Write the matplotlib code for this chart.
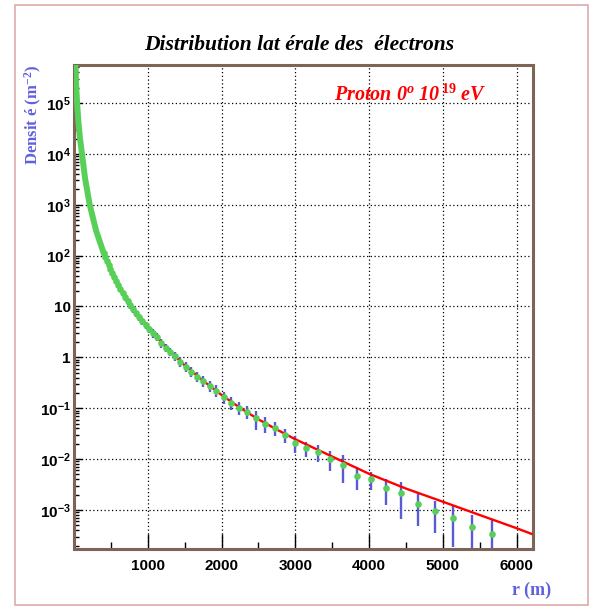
import matplotlib
matplotlib.use("Agg")
import matplotlib.pyplot as plt
from matplotlib.patches import Rectangle
from matplotlib.ticker import FixedLocator, FixedFormatter, LogLocator, NullFormatter

plt.rcParams['mathtext.fontset'] = 'custom'
plt.rcParams['mathtext.bf'] = 'Liberation Sans:bold'
plt.rcParams['mathtext.rm'] = 'Liberation Serif:bold'
plt.rcParams['mathtext.it'] = 'Liberation Serif:bold:italic'

# core of the distribution (markers overlap into a thick band)
r_core = [15, 20, 30, 42, 60, 80, 108, 150, 213, 300, 404]
rho_core = [9.6e5, 5.1e5, 2.1e5, 1.0e5, 4.2e4, 2.07e4, 1.0e4, 3.28e3, 1.0e3, 307, 110]

# binned points with errors
r_pts = [404, 424, 446, 468, 491, 516, 542, 569, 597, 627,
         658, 691, 726, 762, 800, 840, 882, 926, 972, 1021,
         1072, 1126, 1182, 1242, 1304, 1370, 1438, 1511, 1586, 1666,
         1750, 1837, 1930, 2026, 2128, 2235, 2347, 2465, 2589, 2719,
         2855, 2999, 3149, 3307, 3473, 3648, 3831, 4023, 4225, 4437,
         4660, 4894, 5140, 5398, 5669]
rho_pts = [110.4, 92.5, 76.6, 64.1, 53.7, 44.7, 37.2, 31.1, 26.0, 21.7,
           18.2, 15.2, 12.6, 10.5, 8.81, 7.36, 6.15, 5.13, 4.29, 3.57,
           2.99, 2.56, 1.90, 1.56, 1.30, 1.04, 0.826, 0.659, 0.526, 0.420,
           0.345, 0.275, 0.223, 0.165, 0.129, 0.103, 0.0861, 0.0640, 0.0494, 0.0406,
           0.0300, 0.0212, 0.0164, 0.0137, 0.0101, 0.00762, 0.00476, 0.00405, 0.00269, 0.00213,
           0.00131, 0.000935, 0.000681, 0.000468, 0.000340]
err_pts = [11, 9.3, 8.4, 7.1, 5.9, 5.4, 4.5, 3.7, 3.4, 2.8,
           2.4, 2.1, 1.8, 1.5, 1.3, 1.1, 0.98, 0.82, 0.73, 0.61,
           0.54, 0.46, 0.36, 0.30, 0.26, 0.21, 0.17, 0.145, 0.116, 0.097,
           0.083, 0.069, 0.058, 0.043, 0.036, 0.031, 0.026, 0.026, 0.017, 0.012,
           0.0096, 0.0078, 0.0056, 0.0051, 0.0043, 0.0042, 0.0023, 0.0016, 0.00145, 0.00145,
           0.00083, 0.00058, 0.00049, 0.00033, 0.00030]

# fitted function
r_fit = [900, 1000, 1250, 1500, 1750, 2000, 2250, 2500, 2750, 3000,
         3500, 4000, 4500, 5000, 5500, 6000, 6200]
rho_fit = [6.03, 3.98, 1.55, 0.692, 0.347, 0.182, 0.102, 0.0603, 0.0380, 0.0245,
           0.0112, 0.00513, 0.00263, 0.00145, 0.000794, 0.000437, 0.000339]

ytick_vals = [1e-3, 1e-2, 1e-1, 1, 10, 1e2, 1e3, 1e4, 1e5]
ytick_labels = [r'$\mathbf{10^{-3}}$', r'$\mathbf{10^{-2}}$', r'$\mathbf{10^{-1}}$',
                '1', '10', r'$\mathbf{10^{2}}$', r'$\mathbf{10^{3}}$',
                r'$\mathbf{10^{4}}$', r'$\mathbf{10^{5}}$']
xtick_vals = [1000, 2000, 3000, 4000, 5000, 6000]

green = '#58d058'
blue = '#5a5ad8'
frame = '#7d6456'
label_blue = '#6060dd'

fig = plt.figure(figsize=(5.96, 6.08), dpi=100)
fig.patches.append(Rectangle((15 / 596, 1 - 605 / 608), 573 / 596, 600 / 608,
                             transform=fig.transFigure, fill=False,
                             edgecolor='#e0aaaa', lw=1.2))
ax = fig.add_axes([74 / 596, 1 - 549 / 608, 459 / 596, 484 / 608])

ax.set_yscale('log')
ax.set_xlim(0, 6220)
ax.set_ylim(1.71e-4, 5.58e5)

ax.errorbar(r_pts, rho_pts, yerr=err_pts, fmt='none', ecolor=blue,
            elinewidth=1.7, capsize=0, zorder=2)
ax.plot(r_fit, rho_fit, color='#ff0000', lw=1.7, zorder=3)
ax.plot(r_core, rho_core, color=green, lw=4.3, solid_capstyle='round', zorder=4)
ax.plot(r_pts, rho_pts, 'o', color=green, ms=4.8, mec='none', zorder=5)

ax.yaxis.set_major_locator(FixedLocator(ytick_vals))
ax.yaxis.set_major_formatter(FixedFormatter(ytick_labels))
ax.yaxis.set_minor_locator(LogLocator(base=10, subs=range(2, 10), numticks=20))
ax.yaxis.set_minor_formatter(NullFormatter())
ax.xaxis.set_major_locator(FixedLocator(xtick_vals))
ax.xaxis.set_minor_locator(FixedLocator([500, 1500, 2500, 3500, 4500, 5500]))

ax.tick_params(axis='y', which='major', direction='in', length=6, width=1, pad=2.5)
ax.tick_params(axis='y', which='minor', direction='in', length=3.8, width=1)
ax.tick_params(axis='x', which='major', direction='in', length=11, width=1, pad=7)
ax.tick_params(axis='x', which='minor', direction='in', length=5, width=1)
for lab in ax.get_xticklabels() + ax.get_yticklabels():
    lab.set_fontfamily('Liberation Sans')
    lab.set_fontweight('bold')
    lab.set_fontsize(11)

ax.grid(True, which='major', color='black', linestyle=(0, (1, 2)), lw=0.9)
for s in ax.spines.values():
    s.set_color(frame)
    s.set_linewidth(2.2)

fig.text(299 / 596, 1 - 50 / 608, 'Distribution lat érale des  électrons',
         ha='center', va='baseline', family='Liberation Serif',
         weight='bold', style='italic', fontsize=15.5)
fig.text(334 / 596, 1 - 101 / 608, r'Proton 0$^{o}$ 10$^{\,19}$ eV',
         ha='left', va='baseline', family='Liberation Serif',
         weight='bold', style='italic', fontsize=14.5, color='#ff0000')
fig.text(33 / 596, 1 - 65 / 608, r'Densit é (m$^{-2}$)', rotation=90,
         ha='center', va='top', family='Liberation Serif', weight='bold',
         fontsize=12, color=label_blue)
fig.text(551 / 596, 1 - 590 / 608, 'r (m)', ha='right', va='center',
         family='Liberation Serif', weight='bold', fontsize=13, color=label_blue)

fig.savefig('out.png', dpi=100)
